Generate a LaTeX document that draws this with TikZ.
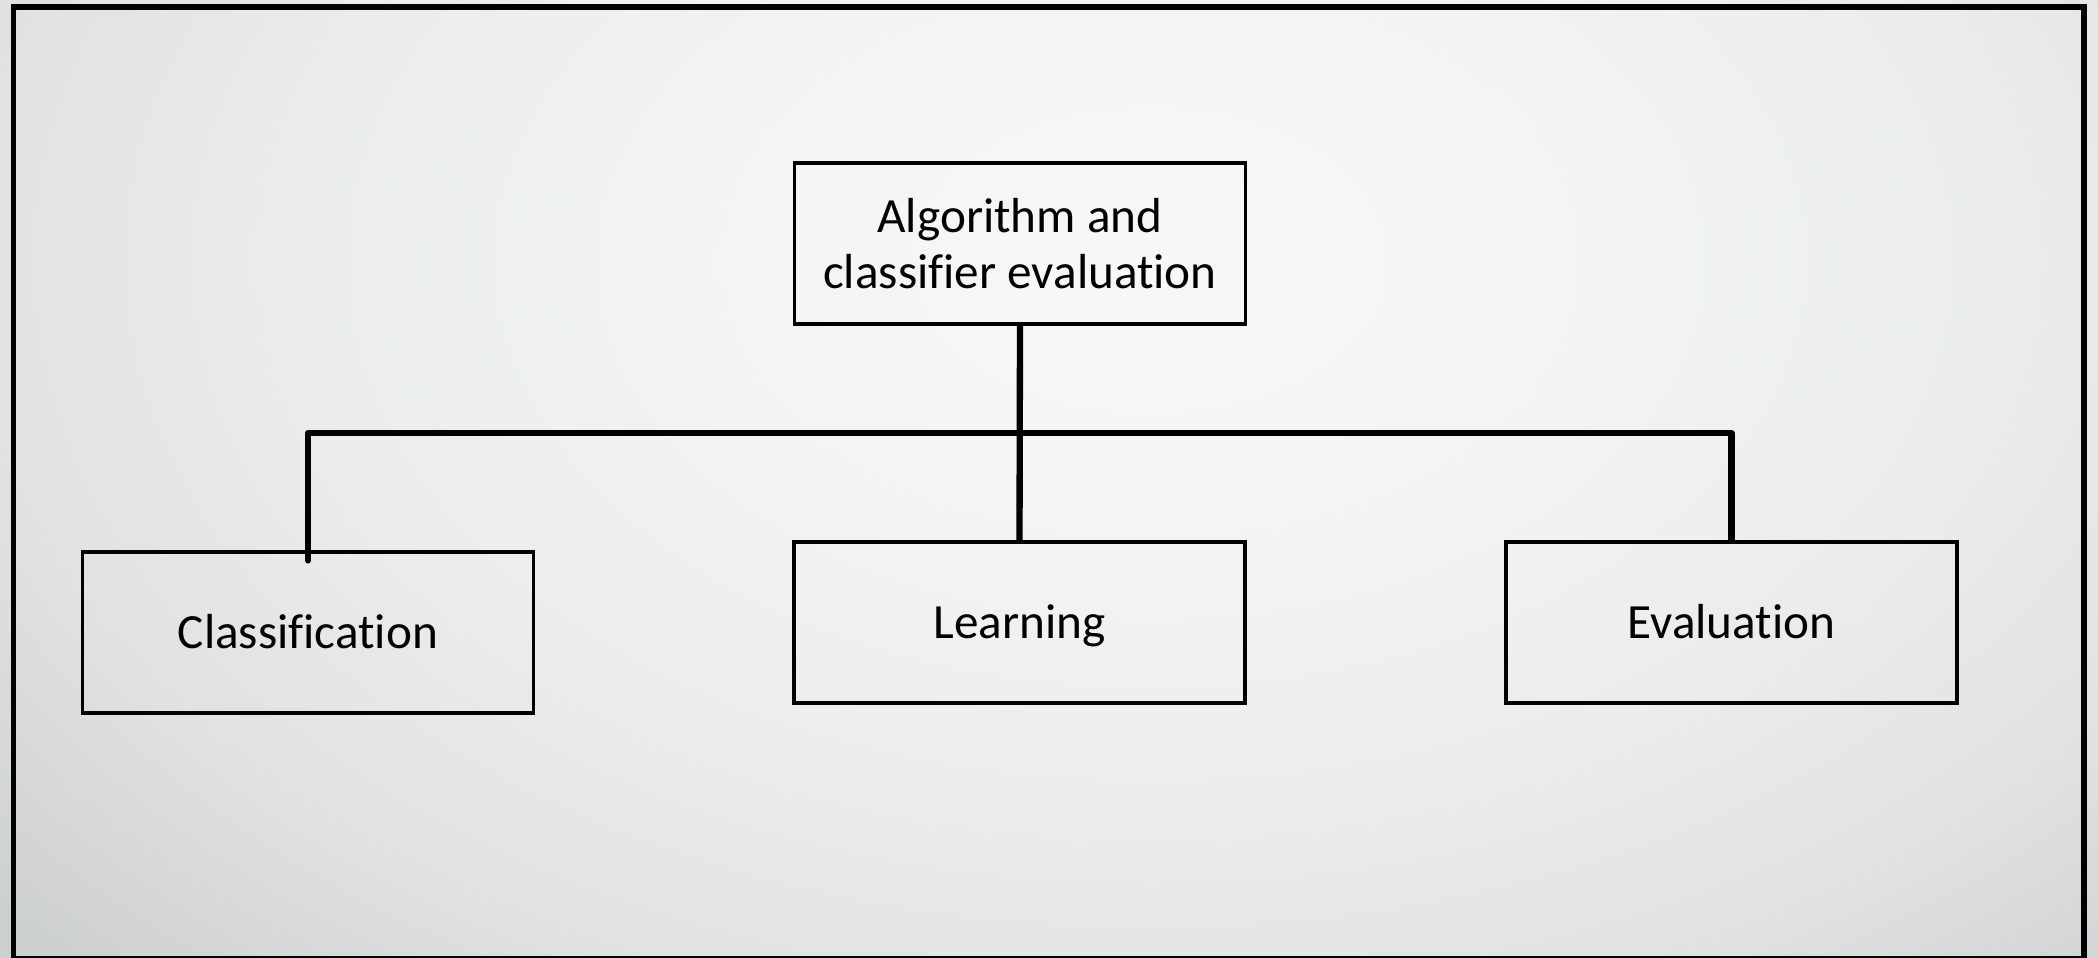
\documentclass[tikz,border=0pt]{standalone}
\usepackage{fontspec}
\setmainfont{Carlito}[Ligatures={NoCommon}]

\definecolor{gris0}{HTML}{F8F8F8}
\definecolor{gris1}{HTML}{F3F3F3}
\definecolor{gris2}{HTML}{EAEBEB}
\definecolor{gris3}{HTML}{E0E1E1}
\definecolor{gris4}{HTML}{CDD0D1}
\definecolor{gris5}{HTML}{C8CBCC}
\pgfdeclareradialshading{fondgris}{\pgfpoint{0bp}{0bp}}{color(0bp)=(gris0); color(6bp)=(gris1); color(11bp)=(gris2); color(15bp)=(gris3); color(19bp)=(gris4); color(25bp)=(gris5); color(50bp)=(gris5)}

\begin{document}
\begin{tikzpicture}
% définition des styles
\tikzstyle{boite}=[rectangle, draw=black, line width=0.9pt, minimum width=4.51cm, minimum height=1.61cm, align=center, font=\fontsize{14}{16}\selectfont]
\tikzstyle{boite1}=[boite, text height=9pt, text depth=0pt]
\tikzstyle{lien}=[line width=1.8pt, line cap=round, line join=round, color=black]
\tikzstyle{cadre}=[draw=black, line width=1.7pt]

% le fond et le cadre
\useasboundingbox (0,0) rectangle (20.98,-9.57);
\clip (0,0) rectangle (20.98,-9.57);
\shade[shading=fondgris] (11.5,-2.6) ellipse (20 and 13);
\draw[cadre] (0.135,-0.07) rectangle (20.835,-9.59);

% les boîtes
\node[boite] (AE) at (10.20,-2.435) {Algorithm and\\classifier evaluation};
\node[boite1] (C) at (3.08,-6.325) {Classification};
\node[boite1] (L) at (10.195,-6.225) {Learning};
\node[boite1] (E) at (17.315,-6.225) {Evaluation};
\coordinate (barre) at (10.20,-4.33);

% les liens
\draw[lien] (AE.south) -- (L.north);
\draw[lien] ([yshift=-0.1cm]C.north) |- (barre) -| (E.north);
\end{tikzpicture}
\end{document}
